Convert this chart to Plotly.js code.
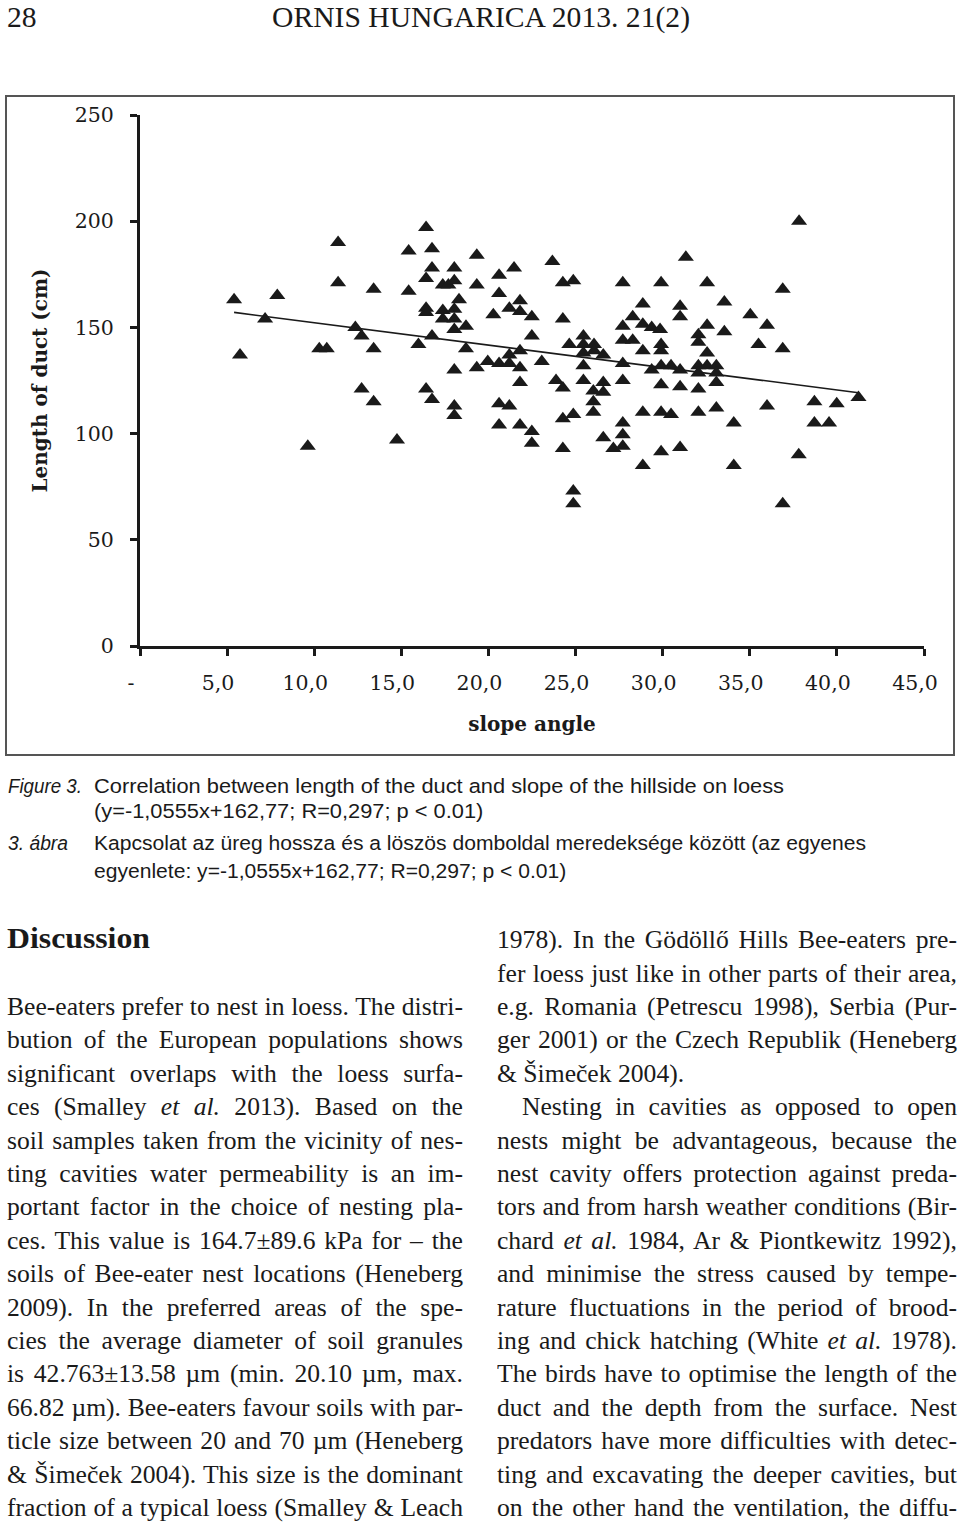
<!DOCTYPE html>
<html>
<head>
<meta charset="utf-8">
<script src="https://cdn.plot.ly/plotly-3.0.1.min.js"></script>
<style>
  html, body { margin: 0; padding: 0; background: #fff; }
  #page { position: relative; width: 960px; height: 1525px; overflow: hidden; background: #fff; color: #1a1a1a; }
  .ln { position: absolute; white-space: nowrap; transform-origin: 0 0; line-height: 1; }
  .serif { font-family: "Liberation Serif", serif; }
  .sans { font-family: "Liberation Sans", sans-serif; }
  .jl { white-space: normal; text-align: justify; text-align-last: justify; }
  .ll { white-space: nowrap; text-align: left; }
  #chartBox { position: absolute; left: 5px; top: 95px; width: 950px; height: 661px; box-sizing: border-box; border: 2px solid #555; }
  #chart { position: absolute; left: 0; top: 0; width: 946px; height: 657px; }
</style>
</head>
<body>
<div id="page">
  <div id="chartBox"><div id="chart"></div></div>
</div>
<script>
// slope angle (deg) and duct length (cm)
const slopeAngle = [
  5.40, 7.88, 7.18, 5.74, 11.37, 11.37, 13.41, 10.29, 10.72, 12.36,
  12.72, 13.41, 15.42, 15.42, 15.98, 16.76, 16.42, 16.76, 16.76, 16.42,
  16.42, 16.42, 17.38, 17.70, 17.38, 17.38, 12.72, 13.41, 16.42, 16.76,
  9.63, 14.75, 19.33, 18.04, 20.61, 21.47, 23.67, 24.27, 24.87, 27.71,
  18.04, 19.33, 20.61, 18.31, 18.04, 18.04, 18.04, 18.71, 20.28, 21.20,
  21.81, 21.81, 22.49, 24.27, 22.49, 18.71, 25.45, 25.45, 26.06, 24.64,
  25.45, 26.06, 26.59, 27.71, 28.28, 28.86, 28.86, 29.37, 29.85, 27.71,
  28.28, 28.86, 19.96, 20.61, 21.20, 21.81, 23.06, 21.20, 21.81, 27.71,
  18.04, 19.33, 21.81, 23.88, 24.27, 25.45, 25.45, 26.59, 26.59, 26.02,
  26.02, 26.02, 27.71, 29.37, 18.04, 18.04, 20.61, 21.20, 20.61, 21.81,
  22.49, 22.49, 24.27, 24.87, 24.27, 26.59, 27.17, 27.71, 27.71, 27.71,
  28.86, 28.86, 24.87, 24.87, 37.83, 31.33, 29.91, 32.55, 36.89, 33.54,
  31.00, 31.00, 35.03, 35.99, 32.55, 32.05, 32.05, 33.54, 29.91, 29.91,
  32.55, 35.50, 36.89, 29.91, 30.48, 31.00, 32.05, 32.55, 33.08, 32.05,
  33.08, 29.91, 31.00, 32.05, 33.08, 29.91, 30.48, 32.05, 33.08, 34.08,
  35.99, 38.71, 39.99, 41.24, 38.71, 39.55, 29.91, 31.00, 34.08, 37.81,
  36.89
];
const ductLength = [
  163, 165, 154, 137, 190, 171, 168, 140, 140, 150,
  146, 140, 186, 167, 142, 146, 197, 187, 178, 173,
  159, 157, 170, 170, 158, 154, 121, 115, 121, 116,
  94, 97, 184, 178, 174.5, 178, 181, 171, 172, 171,
  172, 170, 166, 163, 158.5, 154, 149, 150.5, 156, 159,
  162.5, 157.5, 155, 154, 146, 140, 146, 142, 142, 142,
  138, 139, 137, 150.5, 155, 161, 151.5, 150, 149, 144,
  144, 139, 134, 133, 137, 139, 134, 133, 131, 133,
  130, 131, 124, 125, 121.5, 132, 125, 124, 119.5, 120,
  115, 110, 125, 130, 113, 108.5, 114, 113, 104, 104,
  101, 95.5, 107, 109, 93, 98, 93, 105, 99.5, 94,
  110, 85, 73, 67, 200, 183, 171, 171, 168, 162,
  160, 155, 156, 151, 151, 146.5, 143, 148, 142, 139,
  138, 142, 140, 132, 132, 130, 132, 132, 132, 128.5,
  128.5, 123, 122, 121, 124, 110, 109, 110, 112, 105,
  113, 115, 114, 117, 105, 105, 91.5, 93.5, 85, 90,
  67
];
const xTickVals = [0, 5, 10, 15, 20, 25, 30, 35, 40, 45];
const xTickText = ['-', '5,0', '10,0', '15,0', '20,0', '25,0', '30,0', '35,0', '40,0', '45,0'];
const yTickVals = [0, 50, 100, 150, 200, 250];
const trendSlope = -1.0555;
const trendIntercept = 162.77;

const ink = '#1a1a1a';

const trendX = [Math.min(...slopeAngle), Math.max(...slopeAngle)];
const trendY = trendX.map(function (x) { return trendSlope * x + trendIntercept; });

const points = {
  x: slopeAngle,
  y: ductLength,
  type: 'scatter',
  mode: 'markers',
  marker: { symbol: 'triangle-up', size: 14, color: ink },
  cliponaxis: false
};
const trend = {
  x: trendX,
  y: trendY,
  type: 'scatter',
  mode: 'lines',
  line: { color: ink, width: 1.6 }
};

const layout = {
  width: 946,
  height: 657,
  margin: { l: 133, r: 29, t: 18, b: 108 },
  paper_bgcolor: '#fff',
  plot_bgcolor: '#fff',
  showlegend: false,
  font: { family: 'DejaVu Serif', size: 20.5, color: ink },
  xaxis: {
    range: [0, 45],
    tickvals: xTickVals,
    ticktext: xTickText,
    ticks: 'outside', ticklen: 7, tickwidth: 3, tickcolor: ink,
    showline: true, linewidth: 3, linecolor: ink,
    showgrid: false, zeroline: false,
    ticklabelshift: -9,
    ticklabelstandoff: 9,
    title: { text: 'slope angle', font: { size: 20, weight: 'bold' }, standoff: 24 }
  },
  yaxis: {
    range: [0, 250],
    tickvals: yTickVals,
    ticks: 'outside', ticklen: 7, tickwidth: 3, tickcolor: ink,
    showline: true, linewidth: 3, linecolor: ink,
    showgrid: false, zeroline: false,
    ticklabelstandoff: 12,
    title: { text: 'Length of duct (cm)', font: { size: 20, weight: 'bold' }, standoff: 22 }
  }
};

Plotly.newPlot('chart', [trend, points], layout, { staticPlot: true, displayModeBar: false });

// ---- page text ----
const headerNum = '28';
const headerTitle = 'ORNIS HUNGARICA 2013. 21(2)';
const captionLines = [
  'Correlation between length of the duct and slope of the hillside on loess',
  '(y=-1,0555x+162,77; R=0,297; p &lt; 0.01)',
  'Kapcsolat az üreg hossza és a löszös domboldal meredeksége között (az egyenes',
  'egyenlete: y=-1,0555x+162,77; R=0,297; p &lt; 0.01)'
];
const captionLabels = ['Figure 3.', '3. ábra'];
const leftLines = [
  'Bee-eaters prefer to nest in loess. The distri-',
  'bution of the European populations shows',
  'significant overlaps with the loess surfa-',
  'ces (Smalley <i>et al.</i> 2013). Based on the',
  'soil samples taken from the vicinity of nes-',
  'ting cavities water permeability is an im-',
  'portant factor in the choice of nesting pla-',
  'ces. This value is 164.7±89.6 kPa for – the',
  'soils of Bee-eater nest locations (Heneberg',
  '2009). In the preferred areas of the spe-',
  'cies the average diameter of soil granules',
  'is 42.763±13.58 µm (min. 20.10 µm, max.',
  '66.82 µm). Bee-eaters favour soils with par-',
  'ticle size between 20 and 70 µm (Heneberg',
  '&amp; Šimeček 2004). This size is the dominant',
  'fraction of a typical loess (Smalley &amp; Leach'
];
const rightLines = [
  '1978). In the Gödöllő Hills Bee-eaters pre-',
  'fer loess just like in other parts of their area,',
  'e.g. Romania (Petrescu 1998), Serbia (Pur-',
  'ger 2001) or the Czech Republik (Heneberg',
  '&amp; Šimeček 2004).',
  'Nesting in cavities as opposed to open',
  'nests might be advantageous, because the',
  'nest cavity offers protection against preda-',
  'tors and from harsh weather conditions (Bir-',
  'chard <i>et al.</i> 1984, Ar &amp; Piontkewitz 1992),',
  'and minimise the stress caused by tempe-',
  'rature fluctuations in the period of brood-',
  'ing and chick hatching (White <i>et al.</i> 1978).',
  'The birds have to optimise the length of the',
  'duct and the depth from the surface. Nest',
  'predators have more difficulties with detec-',
  'ting and excavating the deeper cavities, but',
  'on the other hand the ventilation, the diffu-'
];

const page = document.getElementById('page');

function addLine(html, cls, fs, extra) {
  const d = document.createElement('div');
  d.className = 'ln ' + cls;
  d.style.fontSize = fs + 'px';
  if (extra) Object.assign(d.style, extra);
  d.innerHTML = html;
  page.appendChild(d);
  return d;
}
function naturalWidth(html, cls, fs) {
  const s = document.createElement('span');
  s.className = 'ln ' + cls;
  s.style.fontSize = fs + 'px';
  s.style.visibility = 'hidden';
  s.innerHTML = html;
  page.appendChild(s);
  const w = s.getBoundingClientRect().width;
  page.removeChild(s);
  return w;
}
function place(d, left, cy, fs, k, sx) {
  d.style.left = left + 'px';
  d.style.top = Math.max(0, cy - k * fs) + 'px';
  d.style.transform = 'scaleX(' + sx + ')';
}

function drawText() {
  // header
  const hfs = 30;
  const hs = 418 / naturalWidth(headerTitle, 'serif', hfs);
  place(addLine(headerNum, 'serif', hfs), 7, 18, hfs, 0.52, hs);
  place(addLine(headerTitle, 'serif', hfs), 272, 18, hfs, 0.52, hs);

  // caption: each paragraph keeps the scale of its first (full) line
  const cfs = 20.5;
  const s1 = 690 / naturalWidth(captionLines[0], 'sans', cfs);
  const s3 = 772 / naturalWidth(captionLines[2], 'sans', cfs);
  const capScale = [s1, s1, s3, s3];
  const capY = [787, 812, 844, 872];
  captionLines.forEach(function (t, i) {
    place(addLine(t, 'sans', cfs), 94, capY[i], cfs, 0.52, capScale[i]);
  });
  const lab0 = '<i>' + captionLabels[0] + '</i>';
  const lab1 = '<i>' + captionLabels[1] + '</i>';
  place(addLine(lab0, 'sans', cfs), 8, capY[0], cfs, 0.52, 74 / naturalWidth(lab0, 'sans', cfs));
  place(addLine(lab1, 'sans', cfs), 8, capY[2], cfs, 0.52, 60 / naturalWidth(lab1, 'sans', cfs));

  // heading
  const dfs = 30;
  const dh = '<b>Discussion</b>';
  place(addLine(dh, 'serif', dfs), 7, 939, dfs, 0.52, 143 / naturalWidth(dh, 'serif', dfs));

  // two justified columns
  const bfs = 25;
  const lh = 33.4;
  const cols = [
    { lines: leftLines, left: 7, width: 456, y0: 1007.8, plain: [], indent: {} },
    { lines: rightLines, left: 497, width: 460, y0: 941, plain: [4], indent: { 5: 25 } }
  ];
  cols.forEach(function (c) {
    let maxW = 0;
    c.lines.forEach(function (t, i) {
      if (c.plain.indexOf(i) < 0) maxW = Math.max(maxW, naturalWidth(t, 'serif', bfs) + (c.indent[i] || 0));
    });
    c.maxW = maxW;
  });
  const bs = Math.min(cols[0].width / (cols[0].maxW + 2), cols[1].width / (cols[1].maxW + 2));
  cols.forEach(function (c) {
    c.lines.forEach(function (t, i) {
      const plain = c.plain.indexOf(i) >= 0;
      const d = addLine(t, 'serif ' + (plain ? 'll' : 'jl'), bfs, {
        width: (c.width / bs) + 'px',
        boxSizing: 'border-box',
        paddingLeft: ((c.indent[i] || 0) / bs) + 'px'
      });
      place(d, c.left, c.y0 + i * lh, bfs, 0.55, bs);
    });
  });
}

if (document.fonts && document.fonts.ready) {
  document.fonts.ready.then(drawText);
} else {
  drawText();
}
</script>
</body>
</html>
